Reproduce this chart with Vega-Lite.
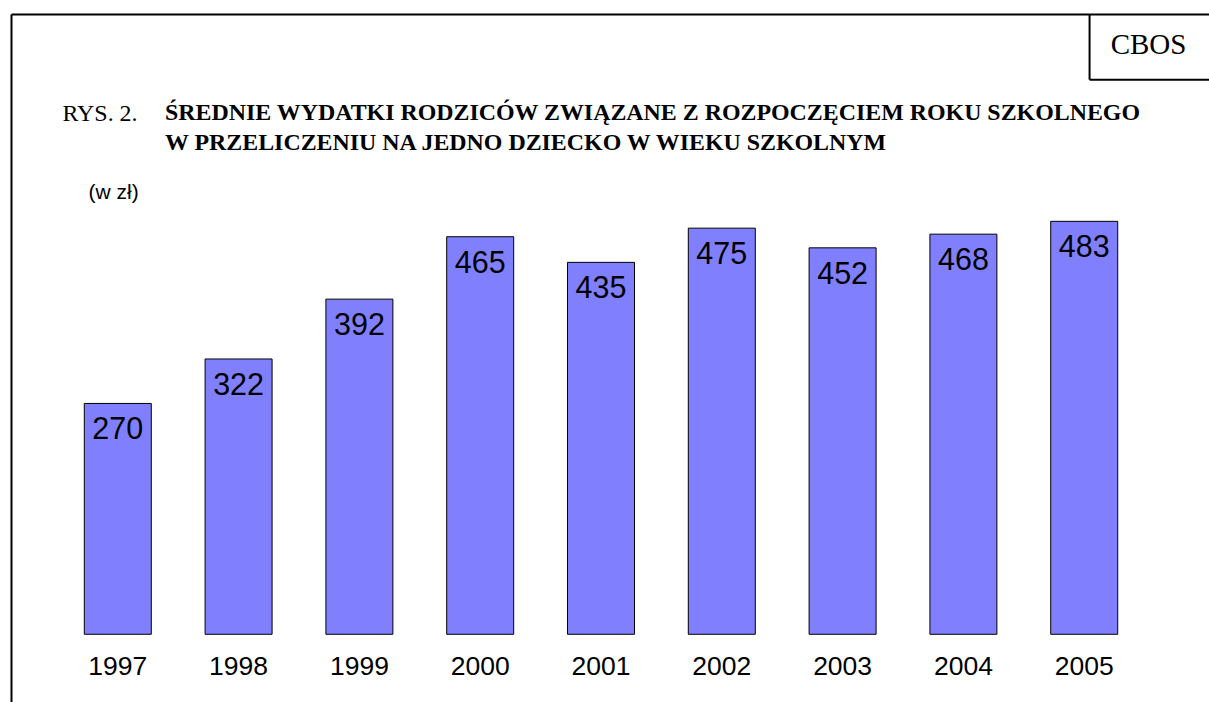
{
  "$schema": "https://vega.github.io/schema/vega-lite/v6.json",
  "width": 1198,
  "height": 688,
  "autosize": {"type": "none"},
  "padding": {"left": 11, "top": 14, "right": 0, "bottom": 0},
  "background": "white",
  "config": {"view": {"stroke": null}},
  "title": {
    "text": ["ŚREDNIE WYDATKI RODZICÓW ZWIĄZANE Z ROZPOCZĘCIEM ROKU SZKOLNEGO", "W PRZELICZENIU NA JEDNO DZIECKO W WIEKU SZKOLNYM"],
    "font": "Liberation Serif",
    "fontSize": 23.9,
    "fontWeight": "bold",
    "color": "black",
    "anchor": "start",
    "frame": "group",
    "dx": 154,
    "offset": -142,
    "lineHeight": 30,
    "orient": "top"
  },
  "layer": [
    {
      "data": {"values": [
        {"year": "1997", "value": 270},
        {"year": "1998", "value": 322},
        {"year": "1999", "value": 392},
        {"year": "2000", "value": 465},
        {"year": "2001", "value": 435},
        {"year": "2002", "value": 475},
        {"year": "2003", "value": 452},
        {"year": "2004", "value": 468},
        {"year": "2005", "value": 483}
      ]},
      "layer": [
        {
          "mark": {"type": "bar", "fill": "#8080FF", "stroke": "#000000", "strokeWidth": 1},
          "encoding": {
            "x": {
              "field": "year", "type": "ordinal",
              "scale": {"paddingInner": 0.4454, "paddingOuter": 0.6812, "align": 0.4453, "round": false},
              "axis": {
                "title": "RYS. 2.",
                "titleFont": "Liberation Serif", "titleFontSize": 23.9, "titleFontWeight": "normal", "titleColor": "black",
                "titleX": 51, "titleY": -589, "titleAlign": "left", "titleBaseline": "middle", "titleAngle": 0,
                "domain": false, "ticks": false, "tickSize": 0,
                "labelFont": "Liberation Sans", "labelFontSize": 26.5, "labelColor": "black",
                "labelPadding": -35.7, "labelBaseline": "middle", "labelAngle": 0
              }
            },
            "y": {
              "field": "value", "type": "quantitative",
              "scale": {"domain": [-79.2, 725.5], "nice": false, "zero": false},
              "axis": {
                "title": "(w zł)", "titleAngle": 0, "titleX": 77, "titleY": 178, "titleAlign": "left", "titleBaseline": "middle",
                "titleFont": "Liberation Sans", "titleFontSize": 21, "titleFontWeight": "normal", "titleColor": "black",
                "domain": true, "domainColor": "black", "domainWidth": 2,
                "labels": false, "ticks": false,
                "grid": true, "gridColor": "black", "gridWidth": 2, "gridOpacity": 1,
                "values": [725.5]
              }
            },
            "y2": {"datum": 0}
          }
        },
        {
          "mark": {"type": "text", "font": "Liberation Sans", "fontSize": 30.5, "baseline": "middle", "align": "center", "dy": 27, "fill": "black"},
          "encoding": {
            "x": {"field": "year", "type": "ordinal"},
            "y": {"field": "value", "type": "quantitative"},
            "text": {"field": "value", "type": "quantitative"}
          }
        }
      ]
    },
    {
      "data": {"values": [{"label": "CBOS"}]},
      "layer": [
        {
          "mark": {"type": "rule", "color": "black", "strokeWidth": 2},
          "encoding": {
            "x": {"datum": "2005", "type": "ordinal", "bandPosition": 0.58},
            "y": {"datum": 725.5, "type": "quantitative"},
            "y2": {"datum": 648.7}
          }
        },
        {
          "mark": {"type": "rule", "color": "black", "strokeWidth": 2},
          "encoding": {
            "x": {"datum": "2005", "type": "ordinal", "bandPosition": 0.58},
            "x2": {"datum": "2005", "bandPosition": 3},
            "y": {"datum": 648.7, "type": "quantitative"}
          }
        },
        {
          "mark": {"type": "text", "font": "Liberation Serif", "fontSize": 29, "baseline": "middle", "align": "center", "fill": "black"},
          "encoding": {
            "x": {"datum": "2005", "type": "ordinal", "bandPosition": 1.46},
            "y": {"datum": 688.7, "type": "quantitative"},
            "text": {"field": "label", "type": "nominal"}
          }
        }
      ]
    }
  ]
}
